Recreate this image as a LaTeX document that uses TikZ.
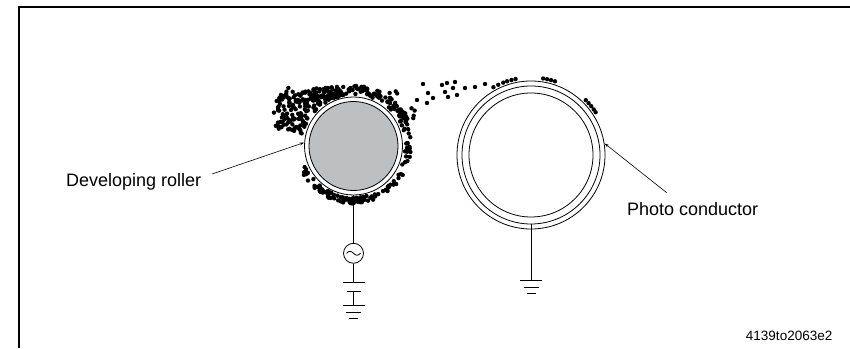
\documentclass[tikz,border=0pt]{standalone}
\usepackage{fontspec}
\setmainfont{Liberation Sans}
\usepackage{xcolor}
\usetikzlibrary{calc, arrows.meta}

\definecolor{rollergray}{RGB}{190,191,193}

\tikzset{
	callout/.style={anchor=base west, inner sep=0pt, font=\fontsize{18}{22}\selectfont},
	lead/.style={-{Stealth[length=4.5pt, width=2.8pt]}, line width=0.6pt},
	drum/.style={circle, draw, inner sep=0pt},
}

\newcommand{\earthsign}[1]{%
	\draw (#1) ++(-11,0) -- ++(22,0);
	\draw (#1) ++(-7.5,-7) -- ++(15,0);
	\draw (#1) ++(-4.5,-13.5) -- ++(9,0);
}

\begin{document}
\begin{tikzpicture}[x=1pt, y=1pt, line width=0.8pt]
	\useasboundingbox (0,0) rectangle (850,348);

	\coordinate (dev) at (353.5,202);
	\coordinate (pc) at (531,193);

	\draw[line width=1.7pt, line join=miter] (19,0) -- (19,341) -- (850,341);

	% toner on the developing roller
	\pgfmathsetseed{4139}
	\foreach \i in {1,...,240} {
		\pgfmathsetmacro{\a}{100+67*rnd}
		\pgfmathsetmacro{\m}{min((76+7*rnd)/abs(cos(\a)),(51+10*rnd)/sin(\a),90)}
		\pgfmathsetmacro{\r}{sqrt(51.5^2+(\m^2-51.5^2)*rnd)}
		\fill (dev) ++(\a:\r) circle (2.2pt);
	}
	\foreach \i in {1,...,65} {
		\pgfmathsetmacro{\a}{28+72*rnd}
		\pgfmathsetmacro{\r}{51.5+9*rnd}
		\fill (dev) ++(\a:\r) circle (2.2pt);
	}
	\foreach \i in {1,...,18} {
		\pgfmathsetmacro{\a}{20+40*rnd}
		\pgfmathsetmacro{\r}{56+15*rnd}
		\fill (dev) ++(\a:\r) circle (2.2pt);
	}
	\foreach \i in {1,...,90} {
		\pgfmathsetmacro{\a}{-158+118*rnd}
		\pgfmathsetmacro{\r}{51.5+6*rnd}
		\fill (dev) ++(\a:\r) circle (2.2pt);
	}
	\foreach \i in {1,...,28} {
		\pgfmathsetmacro{\a}{-40+68*rnd}
		\pgfmathsetmacro{\r}{51.5+6.5*rnd}
		\fill (dev) ++(\a:\r) circle (2.2pt);
	}

	% toner flying over to the drum
	\foreach \p in {(417,248),(423,264),(427,245),(428,255),(433,250),(442,263),(445,256),(447,265),(448,251),(453,260),(455,266),(457,253),(465,260),(475,261),(485,264)}
		\fill \p circle (2.2pt);
	\foreach \a in {119,115,111,108,104.6,101.5,81,78,75,72,45,42,39,36,33.5}
		\fill (pc) ++(\a:77.5) circle (2.2pt);

	\node[drum, fill=white, minimum size=98pt] (roller) at (dev) {};
	\node[drum, fill=rollergray, minimum size=89pt] (core) at (dev) {};

	\node[drum, minimum size=148pt] (shell) at (pc) {};
	\node[drum, minimum size=138pt] (coat) at (pc) {};
	\node[drum, minimum size=124pt] (base) at (pc) {};

	\node[circle, draw, minimum size=20pt, inner sep=0pt] (ac) at (353.5,94.7) {};
	\draw ($(ac)+(-7,0)$) sin ++(3.5,2) cos ++(3.5,-2) sin ++(3.5,-2) cos ++(3.5,2);

	\coordinate (capa) at (353.5,65.7);
	\coordinate (capb) at (353.5,56.3);
	\coordinate (gnda) at (353.5,43);
	\coordinate (gndb) at (531,68);

	\draw (roller.south) -- (ac.north);
	\draw (ac.south) -- (capa);
	\draw (capa) ++(-11,0) -- ++(22,0);
	\draw (capb) ++(-7,0) -- ++(14,0);
	\draw (capb) -- (gnda);
	\earthsign{gnda}

	\draw (coat.south) -- (gndb);
	\earthsign{gndb}

	\node[callout] (devlabel) at (65.7,161.3) {Developing roller};
	\node[callout] (pclabel) at (626.7,132.3) {Photo conductor};
	\node[anchor=base east, inner sep=0pt, font=\fontsize{13.5}{16}\selectfont] (figid) at (832.7,8) {4139to2063e2};

	\coordinate (devtail) at (212,174);
	\coordinate (pctail) at (666.7,155.3);
	\draw[lead] (devtail) -- (roller.176);
	\draw[lead] (pctail) -- (shell.9);
\end{tikzpicture}
\end{document}
